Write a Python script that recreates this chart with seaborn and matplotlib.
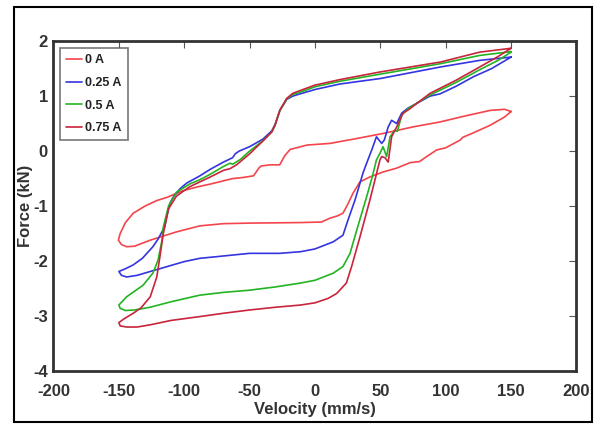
import pandas as pd
import seaborn as sns
import matplotlib.pyplot as plt
from matplotlib.patches import Rectangle

""" 0. data read off the hysteresis loops (velocity in mm/s, force in kN) """
# each loop: start at +150, upper branch to -150, lower branch back to +150
v_0a = [150, 145, 134, 115, 95.6, 75, 52, 30, 11.5, 0, -6, -19, -23, -27, -34, -41, -43, -47,
        -55, -63, -80, -88, -101, -113, -121, -130, -139, -145, -149, -150.4,
        -148, -144, -138, -126, -106, -88, -70, -50, -11, 5, 11.5, 17, 21.4, 25, 29, 34.4,
        42, 52, 62.5, 72.7, 80, 85.4, 93, 100, 111, 113, 120, 134, 145, 150]
f_0a = [0.72, 0.76, 0.74, 0.64, 0.53, 0.44, 0.32, 0.22, 0.14, 0.12, 0.11, 0.03, -0.08, -0.25,
        -0.25, -0.27, -0.31, -0.45, -0.48, -0.5, -0.6, -0.64, -0.72, -0.84, -0.9, -1.0, -1.13,
        -1.3, -1.5, -1.62,
        -1.7, -1.74, -1.73, -1.62, -1.47, -1.36, -1.32, -1.31, -1.30, -1.29, -1.22, -1.18,
        -1.13, -0.97, -0.77, -0.56, -0.47, -0.38, -0.31, -0.21, -0.19, -0.10, 0.02, 0.06,
        0.2, 0.25, 0.32, 0.47, 0.62, 0.72]

v_025a = [150, 126, 96, 50, 19, 0, -11.5, -17, -21.6, -26.8, -30.6, -33, -39.7, -50, -58, -61,
          -63, -70, -80, -88, -98, -103, -108, -111, -113, -115, -120, -124, -132, -139, -145,
          -150,
          -148, -144, -136, -126, -113, -100, -88, -75, -50, -27, -11, 0, 14, 21.4, 25.3, 30.6,
          36.7, 39.5, 43.4, 47, 51, 53, 56, 58.6, 62.5, 66.3, 71, 88, 95.6, 108, 121, 135, 150]
f_025a = [1.71, 1.65, 1.53, 1.32, 1.22, 1.12, 1.04, 1.0, 0.94, 0.74, 0.48, 0.37, 0.22, 0.08,
          0.0, -0.05, -0.12, -0.2, -0.33, -0.45, -0.58, -0.68, -0.82, -0.95, -1.15, -1.38,
          -1.6, -1.74, -1.95, -2.07, -2.14, -2.19,
          -2.26, -2.29, -2.26, -2.19, -2.10, -2.01, -1.95, -1.92, -1.86, -1.86, -1.83, -1.78,
          -1.65, -1.53, -1.25, -0.89, -0.40, -0.22, 0.02, 0.26, 0.14, 0.2, 0.44, 0.56, 0.50,
          0.69, 0.78, 1.0, 1.04, 1.18, 1.35, 1.5, 1.71]

v_05a = [150, 126, 96, 50, 19, 0, -11.5, -17, -21.6, -26.8, -30.6, -33, -39.7, -50, -57, -63,
         -65, -70, -80, -88, -96, -106, -112, -116, -117, -120, -124, -131.5, -144, -150,
         -149, -145, -138, -126, -110, -88, -70, -50, -30, -11, 0, 14, 21.4, 26.8, 31.9, 39.5,
         44, 47, 49.7, 52, 54.8, 57.4, 61, 63, 66.3, 71, 88, 108, 126, 140, 150]
f_05a = [1.81, 1.74, 1.59, 1.40, 1.27, 1.17, 1.07, 1.03, 0.95, 0.74, 0.47, 0.35, 0.19, 0.0,
         -0.15, -0.24, -0.22, -0.28, -0.42, -0.52, -0.60, -0.75, -1.0, -1.38, -1.62, -1.98,
         -2.22, -2.44, -2.65, -2.8,
         -2.86, -2.90, -2.89, -2.84, -2.74, -2.62, -2.57, -2.53, -2.47, -2.40, -2.35, -2.22,
         -2.10, -1.86, -1.44, -0.83, -0.45, -0.16, -0.04, 0.08, -0.10, 0.26, 0.38, 0.36, 0.65,
         0.77, 1.02, 1.25, 1.48, 1.65, 1.80]

v_075a = [150, 126, 96, 50, 19, 0, -11.5, -17, -21.6, -26.8, -30.6, -33, -40, -50, -60, -65,
          -70, -80, -88, -96, -106, -112, -116, -118.6, -121, -126, -133, -139, -146, -150,
          -149, -144, -136, -126, -110, -88, -70, -50, -30, -11, 0, 10, 16.6, 24, 28, 34.4, 42,
          49.7, 51, 53.5, 56, 58.6, 62.5, 67.3, 72, 88, 108, 126, 140, 150]
f_075a = [1.87, 1.80, 1.62, 1.44, 1.30, 1.20, 1.10, 1.05, 0.96, 0.75, 0.47, 0.35, 0.18, -0.05,
          -0.25, -0.32, -0.35, -0.47, -0.56, -0.65, -0.82, -1.05, -1.5, -1.92, -2.29, -2.65,
          -2.85, -2.95, -3.05, -3.12,
          -3.18, -3.2, -3.2, -3.16, -3.08, -3.01, -2.95, -2.89, -2.84, -2.80, -2.76, -2.68,
          -2.59, -2.40, -2.10, -1.56, -0.89, -0.16, -0.10, -0.12, -0.2, 0.26, 0.44, 0.69, 0.76,
          1.05, 1.29, 1.53, 1.72, 1.87]

labels = ['0 A', '0.25 A', '0.5 A', '0.75 A']
colors = ['#f4444c', '#3434e0', '#22b422', '#c8243c']

frames = []
for lab, v, f in zip(labels, [v_0a, v_025a, v_05a, v_075a], [f_0a, f_025a, f_05a, f_075a]):
    frames.append(pd.DataFrame({'velocity': v, 'force': f, 'current': lab}))
df = pd.concat(frames, ignore_index=True)

""" 1. plot """
sns.set_style("white")
plt.rcParams['font.family'] = ['Liberation Sans', 'DejaVu Sans']
plt.rcParams['font.weight'] = 'bold'
plt.rcParams['axes.unicode_minus'] = False

fig = plt.figure(figsize=(5.95, 4.24), dpi=100)
ax = fig.add_axes([0.0899, 0.125, 0.879, 0.778])

sns.lineplot(data=df, x='velocity', y='force', hue='current', hue_order=labels,
             palette=dict(zip(labels, colors)), sort=False, estimator=None,
             linewidth=1.2, ax=ax)

ax.set_xlim(-200, 200)
ax.set_ylim(-4, 2)
ax.set_xticks(range(-200, 201, 50))
ax.set_yticks(range(-4, 3, 1))
ax.tick_params(top=True, right=True, direction='in', length=5, width=0.8,
               color='#555555', labelsize=12)
ax.tick_params(axis='x', pad=9)
ax.tick_params(axis='y', pad=4)
for lbl in ax.get_xticklabels() + ax.get_yticklabels():
    lbl.set_fontweight('bold')
    lbl.set_color('#333333')
for sp in ax.spines.values():
    sp.set_linewidth(2)
    sp.set_color('#333333')

ax.set_xlabel("Velocity (mm/s)", fontsize=12, fontweight='bold', color='#333333')
ax.set_ylabel("Force (kN)", fontsize=12, fontweight='bold', color='#333333')
ax.xaxis.set_label_coords(0.5, -0.095)
ax.yaxis.set_label_coords(-0.04, 0.5)

leg = ax.legend(loc='upper left', bbox_to_anchor=(0.012, 0.979), borderaxespad=0,
                frameon=True, fancybox=False, edgecolor='#555555', handlelength=1.3,
                handletextpad=0.25, labelspacing=0.85, borderpad=0.5,
                prop={'weight': 'bold', 'size': 9})
leg.get_frame().set_linewidth(1.2)
for t in leg.get_texts():
    t.set_color('#222222')

# outer frame around the whole figure
fig.patches.append(Rectangle((0.0235, 0.005), 0.971, 0.978, transform=fig.transFigure,
                             fill=False, edgecolor='black', linewidth=1.5))

plt.savefig("out.png", dpi=100)
